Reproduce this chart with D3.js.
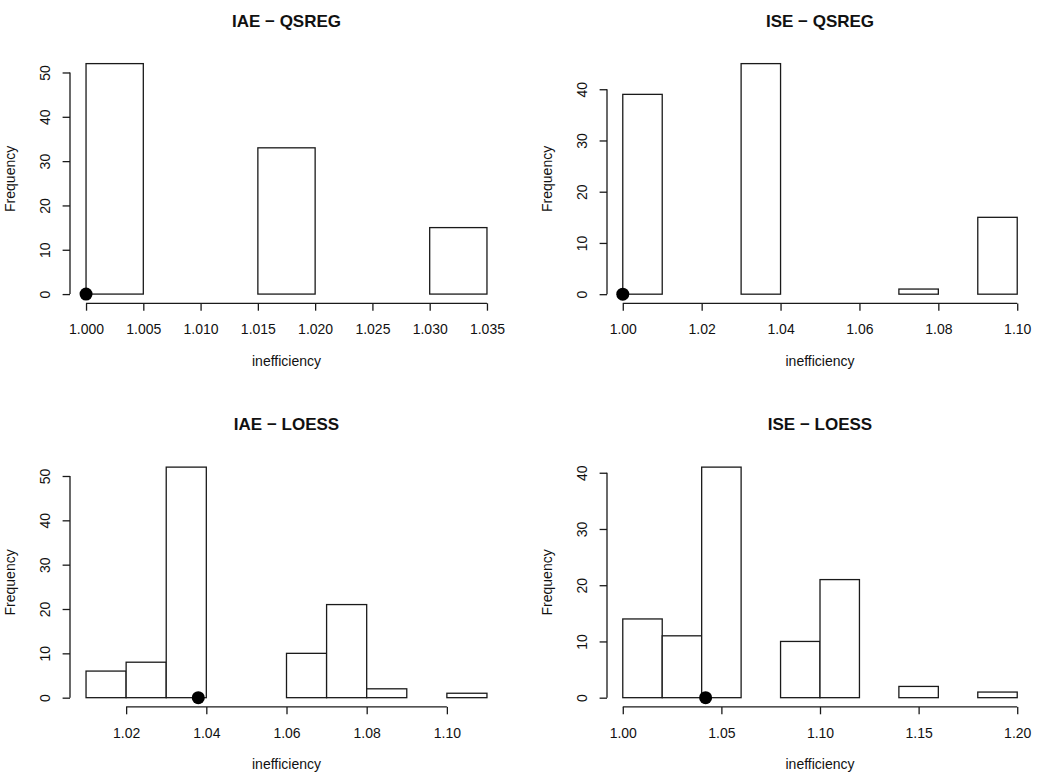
<!DOCTYPE html>
<html>
<head>
<meta charset="utf-8">
<script src="https://cdn.jsdelivr.net/npm/d3@7"></script>
<style>
  html, body { margin: 0; padding: 0; background: #fff; }
  svg { display: block; }
  text { font-family: "Liberation Sans", Arial, Helvetica, sans-serif; fill: #111; }
</style>
</head>
<body>
<svg id="chart" width="1050" height="784"></svg>
<script>
// ---------- Data ----------
const titles = ["IAE \u2212 QSREG", "ISE \u2212 QSREG", "IAE \u2212 LOESS", "ISE \u2212 LOESS"];

const iaeQsregBreaks = [1.000, 1.005, 1.010, 1.015, 1.020, 1.025, 1.030, 1.035];
const iaeQsregCounts = [52, 0, 0, 33, 0, 0, 15];
const iaeQsregXTicks = [1.000, 1.005, 1.010, 1.015, 1.020, 1.025, 1.030, 1.035];
const iaeQsregYTicks = [0, 10, 20, 30, 40, 50];
const iaeQsregPoint = 1.000;

const iseQsregBreaks = [1.00, 1.01, 1.02, 1.03, 1.04, 1.05, 1.06, 1.07, 1.08, 1.09, 1.10];
const iseQsregCounts = [39, 0, 0, 45, 0, 0, 0, 1, 0, 15];
const iseQsregXTicks = [1.00, 1.02, 1.04, 1.06, 1.08, 1.10];
const iseQsregYTicks = [0, 10, 20, 30, 40];
const iseQsregPoint = 1.000;

const iaeLoessBreaks = [1.01, 1.02, 1.03, 1.04, 1.05, 1.06, 1.07, 1.08, 1.09, 1.10, 1.11];
const iaeLoessCounts = [6, 8, 52, 0, 0, 10, 21, 2, 0, 1];
const iaeLoessXTicks = [1.02, 1.04, 1.06, 1.08, 1.10];
const iaeLoessYTicks = [0, 10, 20, 30, 40, 50];
const iaeLoessPoint = 1.038;

const iseLoessBreaks = [1.00, 1.02, 1.04, 1.06, 1.08, 1.10, 1.12, 1.14, 1.16, 1.18, 1.20];
const iseLoessCounts = [14, 11, 41, 0, 10, 21, 0, 2, 0, 1];
const iseLoessXTicks = [1.00, 1.05, 1.10, 1.15, 1.20];
const iseLoessYTicks = [0, 10, 20, 30, 40];
const iseLoessPoint = 1.042;

const xLabel = "inefficiency";
const yLabel = "Frequency";

// ---------- Layout (plot regions) ----------
const regions = [
  { x0: 70, x1: 503, y0: 54.4, y1: 303.3, fmt: ".3f" },
  { x0: 607, x1: 1033, y0: 54.4, y1: 303.4, fmt: ".2f" },
  { x0: 70, x1: 503, y0: 457.9, y1: 706.9, fmt: ".2f" },
  { x0: 607, x1: 1033, y0: 457.9, y1: 706.9, fmt: ".2f" }
];

const panels = [
  { breaks: iaeQsregBreaks, counts: iaeQsregCounts, xTicks: iaeQsregXTicks, yTicks: iaeQsregYTicks, point: iaeQsregPoint },
  { breaks: iseQsregBreaks, counts: iseQsregCounts, xTicks: iseQsregXTicks, yTicks: iseQsregYTicks, point: iseQsregPoint },
  { breaks: iaeLoessBreaks, counts: iaeLoessCounts, xTicks: iaeLoessXTicks, yTicks: iaeLoessYTicks, point: iaeLoessPoint },
  { breaks: iseLoessBreaks, counts: iseLoessCounts, xTicks: iseLoessXTicks, yTicks: iseLoessYTicks, point: iseLoessPoint }
];

const svg = d3.select("#chart");
const INK = "#1a1a1a";
const LW = 1.3;
const TICK = 7.4;
const FS = "14px";

panels.forEach((p, i) => {
  const r = regions[i];
  const bmin = p.breaks[0], bmax = p.breaks[p.breaks.length - 1];
  const span = bmax - bmin;
  const cmax = d3.max(p.counts);
  const x = d3.scaleLinear().domain([bmin - 0.04 * span, bmax + 0.04 * span]).range([r.x0, r.x1]);
  const y = d3.scaleLinear().domain([-0.04 * cmax, 1.04 * cmax]).range([r.y1, r.y0]);

  const g = svg.append("g");

  // bars
  const bins = p.counts.map((c, k) => ({ lo: p.breaks[k], hi: p.breaks[k + 1], c }));
  g.selectAll("rect.bar").data(bins).join("rect")
    .attr("class", "bar")
    .attr("x", d => x(d.lo))
    .attr("width", d => x(d.hi) - x(d.lo))
    .attr("y", d => y(d.c))
    .attr("height", d => y(0) - y(d.c))
    .attr("fill", "#fff")
    .attr("stroke", INK)
    .attr("stroke-width", LW);

  // x axis (R style: line from first to last tick, below plot region)
  const xAxis = d3.axisBottom(x).tickValues(p.xTicks).tickSize(TICK).tickSizeOuter(0)
    .tickFormat(d3.format(r.fmt));
  const xa = g.append("g").attr("transform", `translate(0,${r.y1})`).call(xAxis)
    .attr("font-size", null).attr("font-family", null);
  xa.select(".domain").remove();
  xa.append("line")
    .attr("x1", x(p.xTicks[0])).attr("x2", x(p.xTicks[p.xTicks.length - 1]))
    .attr("y1", 0).attr("y2", 0).attr("stroke", INK).attr("stroke-width", LW);
  xa.selectAll(".tick line").attr("stroke", INK).attr("stroke-width", LW);
  xa.selectAll(".tick text")
    .attr("y", 30.7).attr("dy", null)
    .attr("fill", "#111")
    .style("font-size", FS)
    .style("font-family", "'Liberation Sans', Arial, sans-serif");

  // y axis
  const yAxis = d3.axisLeft(y).tickValues(p.yTicks).tickSize(TICK).tickSizeOuter(0)
    .tickFormat(d3.format("d"));
  const ya = g.append("g").attr("transform", `translate(${r.x0},0)`).call(yAxis)
    .attr("font-size", null).attr("font-family", null);
  ya.select(".domain").remove();
  ya.append("line")
    .attr("x1", 0).attr("x2", 0)
    .attr("y1", y(p.yTicks[0])).attr("y2", y(p.yTicks[p.yTicks.length - 1]))
    .attr("stroke", INK).attr("stroke-width", LW);
  ya.selectAll(".tick line").attr("stroke", INK).attr("stroke-width", LW);
  ya.selectAll(".tick text")
    .attr("x", null).attr("dy", null)
    .attr("transform", "translate(-20,0) rotate(-90)")
    .attr("text-anchor", "middle")
    .attr("y", 0)
    .attr("fill", "#111")
    .style("font-size", FS)
    .style("font-family", "'Liberation Sans', Arial, sans-serif");

  // reference point
  g.append("circle")
    .attr("cx", x(p.point)).attr("cy", y(0)).attr("r", 6.5)
    .attr("fill", "#000");

  const cx = (r.x0 + r.x1) / 2;
  const cy = (r.y0 + r.y1) / 2;

  // title
  g.append("text")
    .attr("x", cx).attr("y", r.y0 - 27.8)
    .attr("text-anchor", "middle")
    .style("font-size", "17px").attr("font-weight", "bold")
    .text(titles[i]);

  // x label
  g.append("text")
    .attr("x", cx).attr("y", r.y1 + 62.3)
    .attr("text-anchor", "middle")
    .style("font-size", FS)
    .text(xLabel);

  // y label
  g.append("text")
    .attr("transform", `translate(${r.x0 - 55},${cy}) rotate(-90)`)
    .attr("text-anchor", "middle")
    .style("font-size", FS)
    .text(yLabel);
});
</script>
</body>
</html>
